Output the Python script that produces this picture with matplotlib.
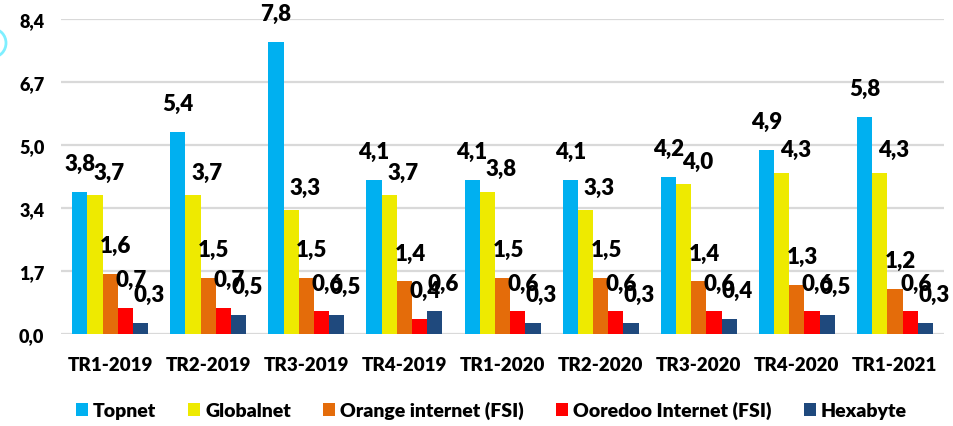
import numpy as np
import matplotlib
matplotlib.use('Agg')
import matplotlib.pyplot as plt
from matplotlib.patches import Patch, Ellipse

# Data
quarters = ['TR1-2019', 'TR2-2019', 'TR3-2019', 'TR4-2019', 'TR1-2020',
            'TR2-2020', 'TR3-2020', 'TR4-2020', 'TR1-2021']
topnet = [3.8, 5.4, 7.8, 4.1, 4.1, 4.1, 4.2, 4.9, 5.8]
globalnet = [3.7, 3.7, 3.3, 3.7, 3.8, 3.3, 4.0, 4.3, 4.3]
orange = [1.6, 1.5, 1.5, 1.4, 1.5, 1.5, 1.4, 1.3, 1.2]
ooredoo = [0.7, 0.7, 0.6, 0.4, 0.6, 0.6, 0.6, 0.6, 0.6]
hexabyte = [0.3, 0.5, 0.5, 0.6, 0.3, 0.3, 0.4, 0.5, 0.3]
names = ['Topnet', 'Globalnet', 'Orange internet (FSI)', 'Ooredoo Internet (FSI)', 'Hexabyte']
yticks = [0.0, 1.68, 3.36, 5.04, 6.72, 8.4]

colors = ['#00B0F0', '#EEEA00', '#E46C0A', '#FF0000', '#1F497D']
series = [topnet, globalnet, orange, ooredoo, hexabyte]

plt.rcParams['font.family'] = ['Lato', 'DejaVu Sans']
WT = 'heavy'

fig = plt.figure(figsize=(9.54, 4.27), dpi=100)
ax = fig.add_axes([0.064, 0.2155, 0.9255, 0.7375])

x = np.arange(len(quarters))
w = 0.155
# label offsets in points (dx, dy) per series
dxs = [0, 10, 4, 4, 6]
dys = [13, 9, 13, 13, 13]
for i, (vals, c) in enumerate(zip(series, colors)):
    pos = x + (i - 2) * w
    ax.bar(pos, vals, width=w, color=c, zorder=3)
    for p, v in zip(pos, vals):
        ax.annotate(('%.1f' % v).replace('.', ','), xy=(p, v),
                    xytext=(dxs[i], dys[i]), textcoords='offset points',
                    ha='center', va='bottom', fontsize=16, fontweight=WT,
                    color='black', zorder=4)

ax.set_xlim(-0.5, len(quarters) - 0.5)
ax.set_ylim(0, 8.4)
ax.set_yticks(yticks)
ax.set_yticklabels([('%.1f' % t).replace('.', ',') for t in yticks],
                   fontsize=13, fontweight=WT)
ax.set_xticks(x)
ax.set_xticklabels(quarters, fontsize=13.5, fontweight=WT)
ax.tick_params(axis='y', length=0, pad=12)
ax.tick_params(axis='x', length=0, pad=16)
ax.grid(axis='y', color='#D9D9D9', linewidth=1.6, zorder=0)
ax.set_axisbelow(True)
for s in ax.spines.values():
    s.set_visible(False)

handles = [Patch(facecolor=c, label=n) for c, n in zip(colors, names)]
fig.legend(handles=handles, loc='center', bbox_to_anchor=(0.515, 0.037),
           ncol=5, frameon=False, handlelength=0.62,
           handleheight=0.62, handletextpad=0.26, columnspacing=1.65,
           prop={'weight': WT, 'size': 14})

# stray cyan ring at the left edge of the original image
ring = Ellipse((-7 / 954, 1 - 44 / 427), 26 / 954, 28 / 427,
               transform=fig.transFigure, fill=False, edgecolor='#7FEFFF',
               linewidth=2)
fig.patches.append(ring)

fig.savefig('out.png', dpi=100)
